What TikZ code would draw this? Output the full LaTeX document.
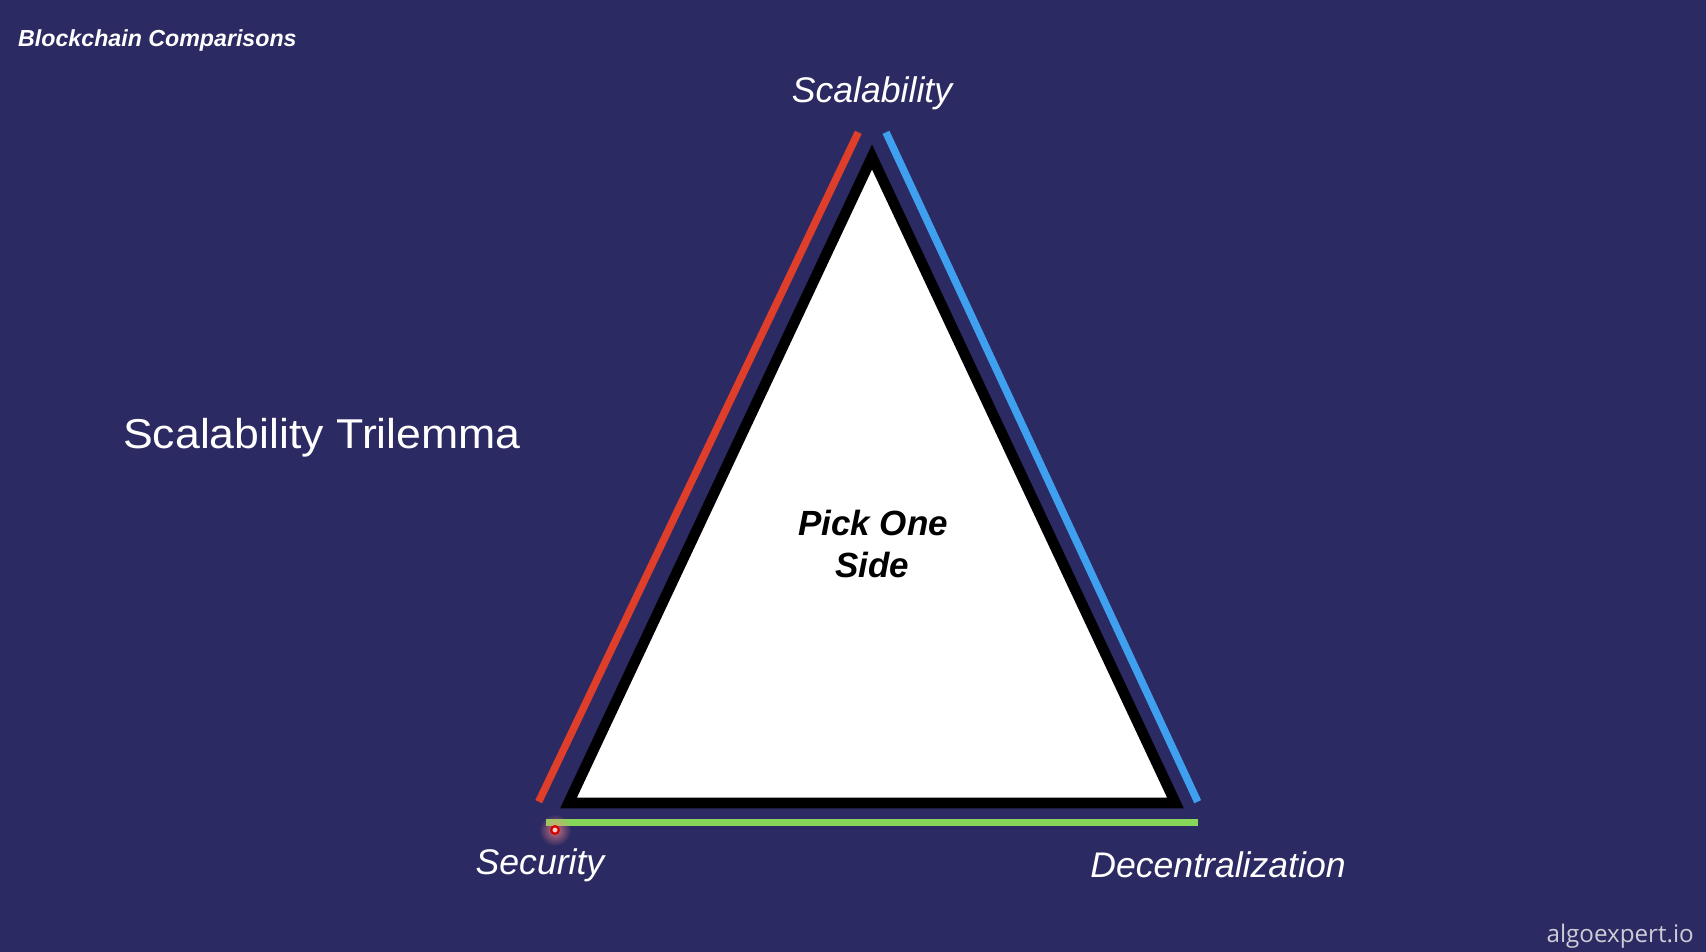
\documentclass[tikz,border=0pt]{standalone}
\usepackage{fontspec}
\usetikzlibrary{fadings}
\setmainfont{Liberation Sans}
\newfontfamily\widefont[FakeStretch=1.07]{Liberation Sans}
\newfontfamily\wmfont{Open Sans}
\definecolor{bgblue}{RGB}{44,42,98}
\definecolor{sidered}{RGB}{222,62,42}
\definecolor{sideblue}{RGB}{62,160,238}
\definecolor{sidegreen}{RGB}{134,214,90}
\definecolor{wmgrey}{RGB}{205,205,215}
\tikzfading[name=glowfade, inner color=transparent!0, outer color=transparent!100]
\begin{document}
\begin{tikzpicture}[x=1pt,y=-1pt,
  lbl/.style={text=white,inner sep=0pt,font=\fontsize{35.6}{40}\selectfont\itshape},
  sidebar/.style={line width=7.5pt,line cap=butt},
  tri/.style={draw=black,fill=white,line width=10.6pt,line join=miter},
  pickfont/.style={anchor=base,inner sep=0pt,font=\fontsize{35}{40}\selectfont\bfseries\itshape}]
\fill[bgblue] (0,0) rectangle (1706,952);
\useasboundingbox (0,0) rectangle (1706,952);

% triangle
\coordinate (A) at (872,157);
\coordinate (B) at (568.5,803);
\coordinate (C) at (1175.5,803);
\draw[tri] (A) -- (B) -- (C) -- cycle;

% coloured sides
\coordinate (r1) at (538.7,801.7);
\coordinate (r2) at (858.3,132.3);
\coordinate (b1) at (886,132.3);
\coordinate (b2) at (1197.7,801.7);
\coordinate (g1) at (546,822.5);
\coordinate (g2) at (1197.7,822.5);
\draw[sidebar,sidered] (r1) -- (r2);
\draw[sidebar,sideblue] (b1) -- (b2);
\draw[sidebar,sidegreen] (g1) -- (g2);

% cursor mark
\coordinate (cur) at (555,830);
\fill[red!45!white,path fading=glowfade,opacity=0.75] (cur) circle (16);
\draw[red!85!black,line width=2.2pt,fill=red!20!white] (cur) circle (3.8);

% texts
\node[anchor=base west,inner sep=0pt,text=white,font=\fontsize{23.2}{26}\selectfont\bfseries\itshape] (title) at (18,47) {Blockchain Comparisons};
\node[lbl,anchor=base] (scal) at (872,103) {Scalability};
\node[lbl,anchor=base] (sec) at (540,874) {Security};
\node[lbl,anchor=base] (dec) at (1218,877) {Decentralization};
\node[anchor=base west,inner sep=0pt,text=white,font=\fontsize{41.7}{46}\widefont] (tril) at (123,448) {Scalability Trilemma};
\node[pickfont] (pick) at (873,535) {Pick One};
\node[pickfont] (side) at (872,577) {Side};
\node[anchor=base east,inner sep=0pt,text=wmgrey,font=\fontsize{24.2}{28}\wmfont] (wm) at (1694,942) {algoexpert.io};
\end{tikzpicture}
\end{document}
